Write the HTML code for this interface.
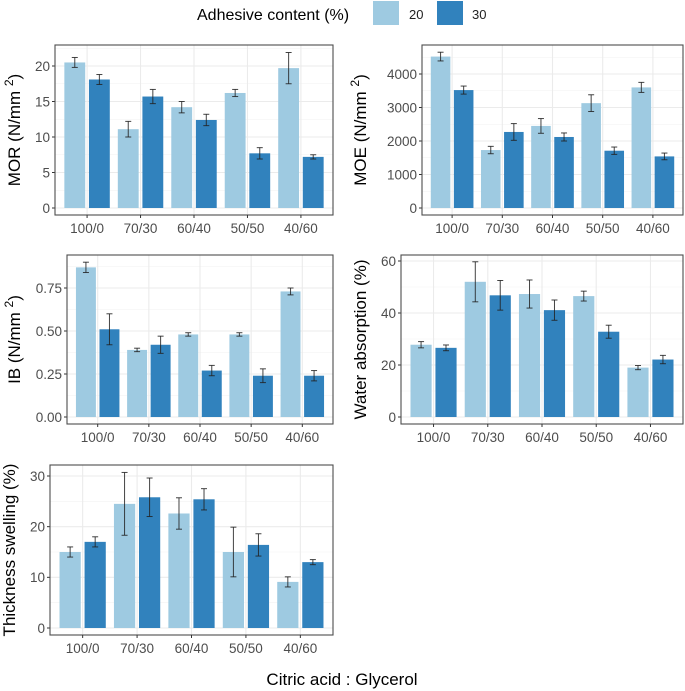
<!DOCTYPE html>
<html><head><meta charset="utf-8">
<style>
html,body{margin:0;padding:0;background:#fff;overflow:hidden;}
svg{display:block;font-family:"Liberation Sans",Arial,sans-serif;}
</style></head>
<body>
<svg id="chart" width="685" height="691" viewBox="0 0 685 691" xmlns="http://www.w3.org/2000/svg">
  <g>
    <text x="197" y="20" font-size="16" fill="#000">Adhesive content (%)</text>
    <rect x="373" y="1" width="26" height="24" fill="#9ecae1"/>
    <text x="409" y="19" font-size="13" fill="#222">20</text>
    <rect x="437" y="1" width="26" height="24" fill="#3182bd"/>
    <text x="472" y="19" font-size="13" fill="#222">30</text>
  </g>
  <text x="342" y="685" font-size="17" text-anchor="middle" fill="#000">Citric acid : Glycerol</text>
</svg>
<script>
const categories = ["100/0","70/30","60/40","50/50","40/60"];
const morA = [20.5,11.1,14.2,16.2,19.7];
const morAErr = [0.7,1.1,0.8,0.5,2.2];
const morB = [18.1,15.7,12.4,7.7,7.2];
const morBErr = [0.7,1.0,0.8,0.8,0.3];
const moeA = [4520,1730,2450,3130,3600];
const moeAErr = [130,110,220,250,150];
const moeB = [3520,2270,2120,1710,1540];
const moeBErr = [120,250,120,110,100];
const ibA = [0.87,0.39,0.48,0.48,0.73];
const ibAErr = [0.03,0.01,0.01,0.01,0.02];
const ibB = [0.51,0.42,0.27,0.24,0.24];
const ibBErr = [0.09,0.05,0.03,0.04,0.03];
const waA = [27.8,52.0,47.3,46.5,19.0];
const waAErr = [1.2,7.7,5.4,1.9,0.8];
const waB = [26.6,46.8,41.1,32.8,22.1];
const waBErr = [1.1,5.7,3.9,2.5,1.6];
const tsA = [15.0,24.5,22.6,15.0,9.1];
const tsAErr = [1.0,6.2,3.1,4.9,1.0];
const tsB = [17.0,25.8,25.4,16.4,13.0];
const tsBErr = [1.0,3.8,2.1,2.2,0.5];
const morTicks = ["0","5","10","15","20"];
const moeTicks = ["0","1000","2000","3000","4000"];
const ibTicks = ["0.00","0.25","0.50","0.75"];
const waTicks = ["0","20","40","60"];
const tsTicks = ["0","10","20","30"];

const NS = "http://www.w3.org/2000/svg";
const svg = document.getElementById('chart');
function mk(tag, attrs, parent){
  const e = document.createElementNS(NS, tag);
  for (const k in attrs) e.setAttribute(k, attrs[k]);
  (parent||svg).appendChild(e);
  return e;
}
function panel(p){
  const g = mk('g', {});
  
  
  const y0 = p.y0px, ppu = p.ppu;
  const yS = v => y0 - v*ppu;
  const step = (p.r - p.l)/5.2;
  const xS = i => p.l + step*(0.6+i);
  const major = p.ticks.map(Number);
  const minorStep = (major[1]-major[0])/2;
  const maxV = (y0 - p.t)/ppu;
  for (let v = minorStep; v < maxV; v += 2*minorStep){
    mk('line',{x1:p.l,x2:p.r,y1:yS(v),y2:yS(v),stroke:'#f2f2f2','stroke-width':0.6},g);
  }
  for (let i=0;i<5;i++){
    mk('line',{x1:xS(i),x2:xS(i),y1:p.t,y2:p.bot,stroke:'#ebebeb','stroke-width':1.1},g);
  }
  p.ticks.forEach(t=>{
    const y = yS(Number(t));
    mk('line',{x1:p.l,x2:p.r,y1:y,y2:y,stroke:'#ebebeb','stroke-width':1.1},g);
    mk('line',{x1:p.l-3,x2:p.l,y1:y,y2:y,stroke:'#333','stroke-width':1},g);
    const tx = mk('text',{x:p.l-5,y:y+4.8,'font-size':13.5,'text-anchor':'end',fill:'#4d4d4d'},g);
    tx.textContent = t;
    
    
  });
  const bw = step*0.39, off = step*0.23;
  const series = [[p.a,p.aErr,'#9ecae1','20'],[p.b,p.bErr,'#3182bd','30']];
  series.forEach((s,si)=>{
    s[0].forEach((v,i)=>{
      const cx = xS(i) + (si===0?-off:off);
      const r = mk('rect',{x:cx-bw/2,y:yS(v),width:bw,height:yS(0)-yS(v),fill:s[2]},g);
      
      
    });
  });
  series.forEach((s,si)=>{
    s[0].forEach((v,i)=>{
      const cx = xS(i) + (si===0?-off:off);
      const e = s[1][i];
      const eg = mk('g',{stroke:'#222','stroke-width':1,'stroke-opacity':0.85},g);
      
      
      mk('line',{x1:cx,x2:cx,y1:yS(v+e),y2:yS(v-e)},eg);
      mk('line',{x1:cx-3,x2:cx+3,y1:yS(v+e),y2:yS(v+e)},eg);
      mk('line',{x1:cx-3,x2:cx+3,y1:yS(v-e),y2:yS(v-e)},eg);
    });
  });
  mk('rect',{x:p.l,y:p.t,width:p.r-p.l,height:p.bot-p.t,fill:'none',stroke:'#4d4d4d','stroke-width':1.1},g);
  categories.forEach((c,i)=>{
    mk('line',{x1:xS(i),x2:xS(i),y1:p.bot,y2:p.bot+3,stroke:'#333','stroke-width':1},g);
    const tx = mk('text',{x:xS(i),y:p.bot+18,'font-size':13.5,'text-anchor':'middle',fill:'#4d4d4d'},g);
    tx.textContent = c;
    
    
  });
  const cy = (p.t+p.bot)/2;
  const tt = mk('text',{x:0,y:0,'font-size':17,'text-anchor':'middle',fill:'#000',transform:'translate(' + p.tx + ',' + cy + ') rotate(-90)'},g);
  
  
  if (p.sup){
    tt.appendChild(document.createTextNode(p.title + ' (N/mm '));
    const ts = document.createElementNS(NS,'tspan');
    ts.setAttribute('font-size','12'); ts.setAttribute('dy','-7');
    ts.textContent = '2';
    tt.appendChild(ts);
    const ts2 = document.createElementNS(NS,'tspan');
    ts2.setAttribute('dy','7');
    ts2.textContent = ')';
    tt.appendChild(ts2);
  } else tt.textContent = p.title;
}
panel({name:'mor',l:55,r:333,t:45,bot:215,y0px:208,ppu:7.1,ticks:morTicks,a:morA,aErr:morAErr,b:morB,bErr:morBErr,title:'MOR',sup:true,tx:20});
panel({name:'moe',l:422,r:683,t:45,bot:215,y0px:208,ppu:0.0335,ticks:moeTicks,a:moeA,aErr:moeAErr,b:moeB,bErr:moeBErr,title:'MOE',sup:true,tx:366});
panel({name:'ib',l:67,r:333,t:255,bot:424,y0px:417,ppu:172,ticks:ibTicks,a:ibA,aErr:ibAErr,b:ibB,bErr:ibBErr,title:'IB',sup:true,tx:20});
panel({name:'water',l:401,r:683,t:255,bot:424,y0px:417,ppu:2.6,ticks:waTicks,a:waA,aErr:waAErr,b:waB,bErr:waBErr,title:'Water absorption (%)',sup:false,tx:366});
panel({name:'thickness',l:50,r:333,t:465,bot:635,y0px:628,ppu:5.067,ticks:tsTicks,a:tsA,aErr:tsAErr,b:tsB,bErr:tsBErr,title:'Thickness swelling (%)',sup:false,tx:15});
</script>
</body></html>
